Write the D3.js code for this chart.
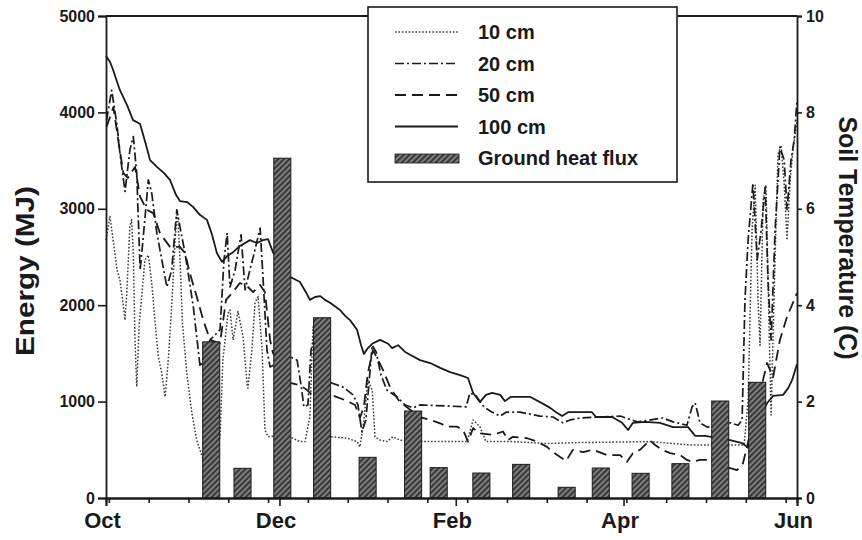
<!DOCTYPE html>
<html>
<head>
<meta charset="utf-8">
<script src="https://cdn.jsdelivr.net/npm/d3@7"></script>
<style>
  body { margin: 0; background: #fff; }
  text { font-family: "Liberation Sans", Arial, sans-serif; font-weight: bold; fill: #1a1a1a; }
</style>
</head>
<body>
<div id="chart"></div>
<script>
// x values are days counted from 1 October, y values are soil temperature (C)
const soil10 = [[0,5.35],[1.4,5.84],[2.5,5.35],[3.9,4.73],[4.9,4.52],[6,4.04],[6.7,3.69],[7.3,4.25],[8.4,5.63],[9,5.77],[9.6,5.08],[10.2,3.28],[10.8,2.31],[11.7,3.62],[13.7,4.94],[14.9,5.04],[16.1,4.45],[17.2,3.69],[18.4,2.93],[19.6,2.59],[20.8,2.1],[21.9,2.86],[23.1,3.97],[24.3,5.35],[25.1,5.98],[26,5.0],[26.9,3.62],[28.4,2.59],[30.2,1.76],[31.9,1.2],[33.8,0.86],[34.8,0.72],[37.3,0.7],[40.1,1.27],[41.1,2.86],[42.9,3.83],[43.6,3.9],[44.7,3.28],[46.4,3.87],[48.2,3.35],[49.6,2.38],[49.9,2.28],[51.3,3.07],[52.4,4.04],[53.5,4.18],[54.9,3.07],[55.9,1.41],[57,1.27],[61.2,1.3],[64.7,1.27],[68.2,1.17],[70,1.17],[71.7,1.69],[72.8,3.55],[76,2.0],[79.1,1.27],[84.8,1.24],[88.3,1.17],[89.3,1.06],[90.7,1.62],[92.1,2.45],[93.6,2.24],[94.6,1.27],[96.4,1.2],[98.8,1.17],[100.9,1.27],[103.4,1.2],[111.5,1.17],[127,1.17],[129.1,1.62],[131.5,1.48],[133.6,1.17],[143.1,1.17],[155.1,1.13],[166.7,1.15],[191.3,1.17],[205.4,1.1],[215.9,1.1],[224.4,1.1],[225.8,2.03],[227.2,5.56],[228.3,6.49],[229.3,4.11],[230,3.17],[231.1,6.18],[232.1,6.49],[233.2,3.49],[233.9,1.72],[234.9,4.11],[236.3,7.12],[237.4,7.32],[238.5,6.49],[239.5,5.35],[240.6,6.6],[241.6,7.22],[243,7.84]];

const soil20 = [[0.2,7.84],[2,8.46],[3.8,7.77],[4.9,7.15],[6.7,6.36],[8.4,7.22],[9.6,7.5],[10.8,6.74],[12,4.73],[13,5.35],[14.9,6.6],[16.1,6.32],[17.9,5.49],[21.4,4.38],[23.1,4.73],[24.9,5.98],[26,5.63],[27.8,5.08],[30.7,3.97],[33.1,2.72],[36.6,3.28],[40.1,3.49],[41.5,4.94],[42.6,5.5],[43.6,4.38],[45.4,4.73],[47.5,5.46],[48.9,4.32],[50.6,4.73],[52.4,5.15],[54.2,5.6],[55.2,4.59],[56.6,3.07],[57.7,2.72],[61.2,2.82],[64.7,2.93],[67.2,2.86],[68.6,2.34],[69.6,1.89],[71,1.93],[72.1,3.07],[73.2,3.34],[76,2.86],[79.1,2.39],[83.4,2.3],[86.9,2.14],[88.6,1.93],[90,1.37],[91.4,1.62],[93.6,3.17],[95,3.03],[96.7,2.55],[98.8,2.24],[102.3,2.1],[105.2,1.93],[108,1.87],[110.4,1.93],[119.9,1.91],[126.6,1.89],[128,2.18],[130.1,2.12],[132.9,1.89],[135.8,1.78],[138.6,1.7],[140.7,1.78],[145.6,1.78],[149.1,1.74],[152.6,1.7],[157.2,1.68],[160.7,1.56],[163.2,1.62],[166.7,1.66],[173.7,1.68],[180.8,1.7],[186.8,1.58],[195.9,1.66],[199.4,1.58],[204.3,1.51],[206.1,1.89],[207.2,1.97],[208.9,1.56],[211.4,1.47],[215.9,1.51],[219.5,1.56],[222.3,1.51],[223.7,1.62],[224.7,4.11],[225.8,5.35],[227.5,6.53],[229,4.94],[230.4,5.56],[231.8,6.45],[232.8,4.52],[233.9,3.28],[235.3,5.56],[237,7.28],[238.5,7.01],[239.5,5.98],[240.9,7.01],[242,7.43],[243,8.26]];

const soil50 = [[0.2,7.7],[2.6,8.11],[4.3,7.43],[6.1,6.74],[7.7,6.64],[10.2,6.87],[12,6.25],[14.3,5.98],[16.6,5.91],[19,5.49],[22.5,5.21],[26,5.21],[27.8,5.08],[29.5,4.66],[31.9,4.18],[34.2,3.69],[36.6,3.28],[40.1,3.21],[42.2,4.11],[44.3,4.25],[47.1,4.46],[49.6,4.4],[51.7,4.27],[54.2,4.42],[55.9,4.27],[57.7,3.28],[58.7,3.01],[61.9,2.66],[64.7,2.39],[68.2,2.34],[70.7,2.24],[72.5,2.14],[79.1,2.14],[84.1,2.03],[87.6,1.93],[89.3,1.66],[90.7,1.9],[92.1,2.6],[93.9,3.07],[97.4,2.66],[99.9,2.3],[101.6,2.14],[103.4,1.99],[110.4,1.68],[114,1.62],[117.5,1.55],[119.9,1.48],[123.4,1.48],[125.6,1.41],[127.3,1.17],[129.1,1.45],[131.5,1.34],[136.1,1.31],[139.6,1.38],[141.4,1.2],[143.1,1.27],[148.1,1.24],[151.6,1.17],[155.1,1.06],[157.2,0.95],[159.7,0.85],[161.8,0.77],[164.2,1.0],[167.8,0.95],[171.3,1.0],[176.2,0.89],[180.8,0.89],[183.2,0.75],[185.3,0.93],[187.8,1.0],[191.3,1.2],[193.1,1.1],[195.5,1.0],[198.4,0.93],[201.9,0.89],[204.3,0.79],[206.1,0.75],[208.9,0.79],[212.4,0.79],[218.4,0.64],[221.9,0.58],[224,0.72],[225.4,1.06],[229.3,2.03],[232.5,2.8],[234.6,2.51],[237,3.28],[239.5,3.76],[243,4.25]];

const soil100 = [[0,9.17],[1.4,9.05],[2.5,8.88],[4.9,8.46],[7.4,8.15],[9.5,7.84],[12,7.76],[14.1,7.32],[15.5,7.01],[17.9,6.87],[20.4,6.74],[22.5,6.6],[24.6,6.29],[26,6.16],[28.5,6.14],[30.6,6.04],[33.1,5.87],[35.5,5.77],[37.3,5.46],[39,5.08],[40.8,4.9],[42.6,5.02],[44.7,5.1],[47.1,5.23],[50.6,5.35],[53.1,5.29],[55.2,5.35],[57,5.37],[58.7,5.1],[61.9,4.83],[64.7,4.59],[68.2,4.48],[70.3,4.27],[71.7,4.11],[73.5,4.17],[75.3,4.19],[77,4.11],[78.8,4.05],[82.3,3.9],[84.1,3.78],[85.8,3.69],[88.3,3.49],[89.7,3.17],[90.7,2.99],[92.1,3.11],[93.6,3.2],[96.4,3.28],[99.2,3.2],[100.6,3.11],[102.7,3.17],[105.2,3.03],[107.6,2.95],[110.4,2.86],[114,2.8],[117.5,2.7],[121,2.61],[124.5,2.55],[127.3,2.49],[129.1,2.18],[131.5,1.99],[133.6,2.14],[135.8,2.18],[138.6,2.14],[140.3,2.01],[142.4,2.1],[149.1,2.1],[152.6,1.99],[156.2,1.87],[158.3,1.78],[160.4,1.7],[162.5,1.78],[166.7,1.78],[170.9,1.78],[172.3,1.68],[178,1.68],[181.5,1.56],[183.6,1.41],[185.3,1.56],[189.6,1.58],[194.8,1.56],[199.4,1.47],[204.7,1.47],[207.2,1.29],[210.7,1.29],[219.5,1.2],[223.7,1.14],[225.8,1.04],[229.3,1.62],[232.5,1.97],[234.6,2.12],[238.1,2.14],[239.9,2.28],[241.3,2.45],[243,2.78]];

// ground heat flux, one bar per sampling period (centre day, MJ)
const fluxDays = [37, 48, 62, 76, 92, 108, 117, 132, 146, 162, 174, 188, 202, 216, 229];
const fluxMJ = [1620, 308, 3525, 1870, 422, 902, 315, 259, 349, 111, 311, 256, 356, 1006, 1200];

const energyTicks = [0, 1000, 2000, 3000, 4000, 5000];
const tempTicks = [0, 2, 4, 6, 8, 10];
const monthLabels = ["Oct", "Dec", "Feb", "Apr", "Jun"];
const monthDates = ["2002-10-01", "2002-12-01", "2003-02-01", "2003-04-01", "2003-06-01"];
const legendLabels = ["10 cm", "20 cm", "50 cm", "100 cm", "Ground heat flux"];

const seasonStart = Date.UTC(2002, 9, 1);
const dayToDate = (d) => new Date(seasonStart + d * 864e5);

const margin = { top: 16, right: 65, bottom: 42, left: 106 };
const width = 862 - margin.left - margin.right;
const height = 540 - margin.top - margin.bottom;

const svg = d3.select("#chart")
  .append("svg")
  .attr("width", width + margin.left + margin.right)
  .attr("height", height + margin.top + margin.bottom)
  .append("g")
  .attr("transform", `translate(${margin.left}, ${margin.top})`);

const x = d3.scaleUtc()
  .domain([dayToDate(0), new Date(monthDates[4])])
  .range([0, width]);

const yE = d3.scaleLinear().domain([0, 5000]).range([height, 0]);
const yT = d3.scaleLinear().domain([0, 10]).range([height, 0]);

// hatch pattern for the bars
const defs = svg.append("defs");
const pat = defs.append("pattern")
  .attr("id", "hatch")
  .attr("patternUnits", "userSpaceOnUse")
  .attr("width", 4)
  .attr("height", 4)
  .attr("patternTransform", "rotate(45)");
pat.append("rect").attr("width", 4).attr("height", 4).attr("fill", "#383838");
pat.append("line").attr("x1", 1).attr("x2", 1).attr("y1", 0).attr("y2", 4)
  .attr("stroke", "#c4c4c4").attr("stroke-width", 1);

const series = [
  { label: "10 cm", values: soil10, dash: "1.6,1.8", w: 1.5, color: "#3a3a3a" },
  { label: "20 cm", values: soil20, dash: "9,3,2,3", w: 1.7, color: "#1a1a1a" },
  { label: "50 cm", values: soil50, dash: "11,6", w: 1.8, color: "#1a1a1a" },
  { label: "100 cm", values: soil100, dash: null, w: 1.8, color: "#1a1a1a" }
];

const line = d3.line()
  .x((d) => x(dayToDate(d[0])))
  .y((d) => yT(d[1]));

svg.selectAll("path.soil")
  .data(series)
  .enter()
  .append("path")
  .attr("class", "soil")
  .attr("d", (d) => line(d.values))
  .attr("fill", "none")
  .attr("stroke", (d) => d.color)
  .attr("stroke-width", (d) => d.w)
  .attr("stroke-dasharray", (d) => d.dash)
  .attr("stroke-linejoin", "round");

// bars sit on top of the lines
svg.selectAll("rect.flux")
  .data(fluxDays.map((d, i) => ({ day: d, value: fluxMJ[i] })))
  .enter()
  .append("rect")
  .attr("class", "flux")
  .attr("x", (d) => x(dayToDate(d.day - 3)))
  .attr("y", (d) => yE(d.value))
  .attr("width", (d) => x(dayToDate(d.day + 3)) - x(dayToDate(d.day - 3)))
  .attr("height", (d) => height - yE(d.value))
  .attr("fill", "url(#hatch)")
  .attr("stroke", "#1a1a1a")
  .attr("stroke-width", 1);

// frame top
svg.append("path")
  .attr("d", `M0,0H${width}`)
  .attr("stroke", "#1a1a1a")
  .attr("stroke-width", 1.8);

const styleAxis = (g, size) => {
  g.select(".domain").attr("stroke", "#1a1a1a").attr("stroke-width", 1.8);
  g.selectAll(".tick line").attr("stroke", "#1a1a1a").attr("stroke-width", 1.6);
  g.selectAll(".tick text").style("font-size", size).attr("fill", "#1a1a1a");
};

svg.append("g")
  .call(d3.axisLeft(yE).tickValues(energyTicks).tickSize(8).tickPadding(3).tickFormat(d3.format("d")))
  .call((g) => styleAxis(g, "16px"));

svg.append("g")
  .attr("transform", `translate(${width}, 0)`)
  .call(d3.axisRight(yT).tickValues(tempTicks).tickSize(5).tickPadding(4))
  .call((g) => styleAxis(g, "16px"));

// minor ticks every two weeks
svg.append("g")
  .attr("transform", `translate(0, ${height})`)
  .call(d3.axisBottom(x).tickValues(d3.range(1, 243, 14).map(dayToDate)).tickSize(5).tickFormat(""))
  .call((g) => styleAxis(g, "0px"));

svg.append("g")
  .attr("transform", `translate(0, ${height})`)
  .call(d3.axisBottom(x)
    .tickValues(monthDates.map((d) => new Date(d)))
    .tickSize(8)
    .tickPadding(6)
    .tickFormat((d, i) => monthLabels[i]))
  .call((g) => styleAxis(g, "22px"))
  .call((g) => g.selectAll(".tick text").attr("dx", -4));

svg.append("text")
  .attr("transform", `translate(${34 - margin.left}, 255) rotate(-90)`)
  .attr("text-anchor", "middle")
  .attr("textLength", 170)
  .attr("lengthAdjust", "spacingAndGlyphs")
  .style("font-size", "26px")
  .text("Energy (MJ)");

svg.append("text")
  .attr("transform", `translate(${width + 42}, 222) rotate(90)`)
  .attr("text-anchor", "middle")
  .attr("textLength", 243)
  .attr("lengthAdjust", "spacingAndGlyphs")
  .style("font-size", "25px")
  .text("Soil Temperature (C)");

// legend
const legend = svg.append("g")
  .attr("transform", `translate(${368 - margin.left}, ${7 - margin.top})`);

legend.append("rect")
  .attr("width", 309)
  .attr("height", 175)
  .attr("fill", "#fff")
  .attr("stroke", "#1a1a1a")
  .attr("stroke-width", 1.6);

const rows = legend.selectAll("g.row")
  .data(legendLabels)
  .enter()
  .append("g")
  .attr("class", "row")
  .attr("transform", (d, i) => `translate(0, ${25 + i * 31.5})`);

rows.filter((d, i) => i < 4)
  .append("path")
  .attr("d", "M27,0H90")
  .attr("fill", "none")
  .attr("stroke", (d, i) => series[i].color)
  .attr("stroke-width", (d, i) => series[i].w)
  .attr("stroke-dasharray", (d, i) => series[i].dash);

rows.filter((d, i) => i === 4)
  .append("rect")
  .attr("x", 27)
  .attr("y", -4)
  .attr("width", 64)
  .attr("height", 9)
  .attr("fill", "url(#hatch)")
  .attr("stroke", "#1a1a1a")
  .attr("stroke-width", 0.8);

rows.append("text")
  .attr("x", 110)
  .attr("y", 7)
  .style("font-size", "20px")
  .text((d) => d);
</script>
</body>
</html>
